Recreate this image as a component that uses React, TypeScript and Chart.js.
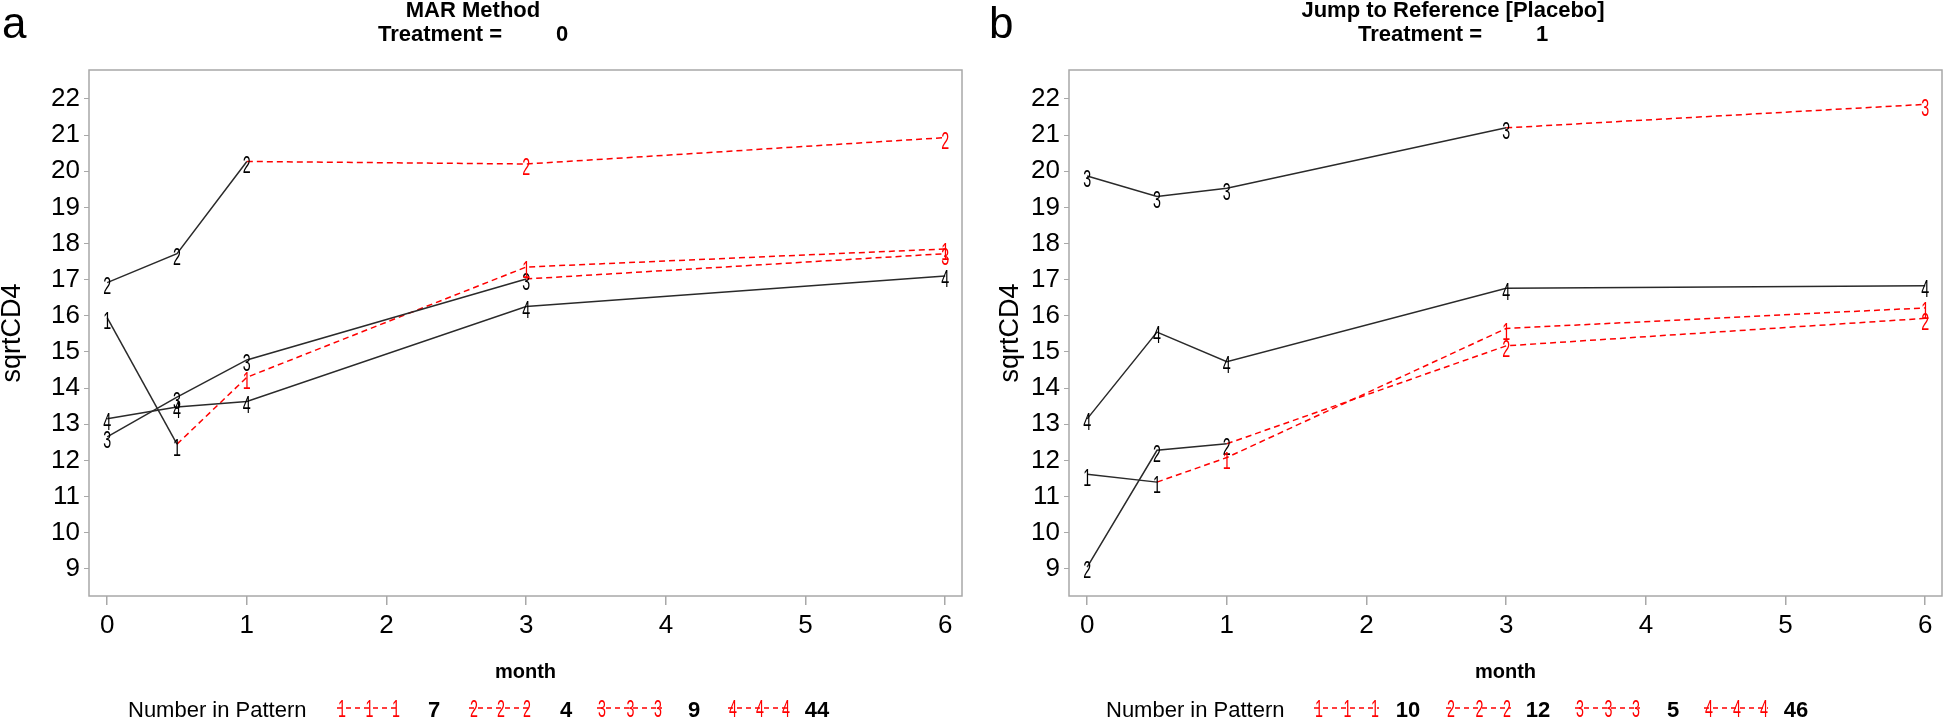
import React, { useEffect, useRef } from 'react';
import { Chart, registerables } from 'chart.js';

Chart.register(...registerables);

// ---------- data ----------
const months = [0, 0.5, 1, 3, 6];
const patternIds = ['1', '2', '3', '4'];
const observedCounts = [2, 3, 4, 5];

// Panel a: MAR Method, Treatment = 0
const marPattern1 = [15.95, 12.45, 14.3, 17.35, 17.85];
const marPattern2 = [16.92, 17.72, 20.27, 20.2, 20.93];
const marPattern3 = [12.65, 13.75, 14.78, 17.02, 17.72];
const marPattern4 = [13.15, 13.48, 13.63, 16.26, 17.1];
const marCounts = [7, 4, 9, 44];

// Panel b: Jump to Reference [Placebo], Treatment = 1
const j2rPattern1 = [11.62, 11.4, 12.08, 15.65, 16.22];
const j2rPattern2 = [9.05, 12.28, 12.46, 15.17, 15.93];
const j2rPattern3 = [19.87, 19.3, 19.53, 21.2, 21.85];
const j2rPattern4 = [13.15, 15.55, 14.73, 16.76, 16.83];
const j2rCounts = [10, 12, 5, 46];

const xTickValues = [0, 1, 2, 3, 4, 5, 6];
const yTickValues = [9, 10, 11, 12, 13, 14, 15, 16, 17, 18, 19, 20, 21, 22];

// ---------- styling ----------
const FONT = '"Liberation Sans", Arial, "DejaVu Sans", sans-serif';
const BLACK = '#2a2a2a';
const RED = '#ff0000';
const BOX = '#a8a8a8';

type PanelSpec = {
  letter: string;
  letterX: number;
  title: string;
  treatment: string;
  series: number[][];
  counts: number[];
  yTitleX: number;
  legendX: number[]; // label, s1 start, s1 end, c1, s2 start, s2 end, c2, ...
  width: number;
  left: number;
};

function drawDigit(ctx: CanvasRenderingContext2D, d: string, x: number, y: number, color: string) {
  ctx.save();
  ctx.translate(x, y + 5);
  ctx.scale(0.62, 1);
  ctx.font = `23px ${FONT}`;
  ctx.fillStyle = color;
  ctx.textAlign = 'center';
  ctx.textBaseline = 'middle';
  ctx.fillText(d, 0, 0);
  ctx.restore();
}

function makePlugin(p: PanelSpec) {
  return {
    id: 'panelDecor',
    afterDatasetsDraw(chart: any) {
      const ctx: CanvasRenderingContext2D = chart.ctx;
      const a = chart.chartArea;
      // markers (digits)
      chart.data.datasets.forEach((ds: any, i: number) => {
        const meta = chart.getDatasetMeta(i);
        meta.data.forEach((pt: any, j: number) => {
          if (ds.skipFirstMarker && j === 0) return;
          drawDigit(ctx, ds.marker, pt.x, pt.y, ds.markerColor);
        });
      });
      // box
      ctx.save();
      ctx.strokeStyle = BOX;
      ctx.lineWidth = 1.5;
      ctx.strokeRect(a.left, a.top, a.right - a.left, a.bottom - a.top);
      ctx.restore();
    },
    afterDraw(chart: any) {
      const ctx: CanvasRenderingContext2D = chart.ctx;
      const a = chart.chartArea;
      ctx.save();
      ctx.fillStyle = '#000';
      // panel letter
      ctx.font = `44px ${FONT}`;
      ctx.textAlign = 'left';
      ctx.textBaseline = 'alphabetic';
      ctx.fillText(p.letter, p.letterX, 38);
      // titles
      ctx.font = `bold 22px ${FONT}`;
      ctx.textAlign = 'center';
      ctx.fillText(p.title, 473, 17);
      ctx.textAlign = 'left';
      ctx.fillText('Treatment =', 378, 41);
      ctx.textAlign = 'center';
      ctx.fillText(p.treatment, 562, 41);
      // y title
      ctx.save();
      ctx.translate(p.yTitleX, (a.top + a.bottom) / 2);
      ctx.rotate(-Math.PI / 2);
      ctx.font = `27px ${FONT}`;
      ctx.textAlign = 'center';
      ctx.textBaseline = 'middle';
      ctx.fillText('sqrtCD4', 0, 0);
      ctx.restore();
      // x title
      ctx.font = `bold 20px ${FONT}`;
      ctx.textAlign = 'center';
      ctx.textBaseline = 'middle';
      ctx.fillText('month', (a.left + a.right) / 2, 672);
      // legend
      const ly = 711;
      ctx.font = `22px ${FONT}`;
      ctx.textAlign = 'left';
      ctx.fillText('Number in Pattern', p.legendX[0], ly);
      for (let k = 0; k < 4; k++) {
        const x1 = p.legendX[1 + k * 3];
        const x2 = p.legendX[2 + k * 3];
        const xc = p.legendX[3 + k * 3];
        ctx.save();
        ctx.strokeStyle = RED;
        ctx.lineWidth = 1.3;
        ctx.setLineDash([5, 4]);
        ctx.beginPath();
        ctx.moveTo(x1, ly - 3);
        ctx.lineTo(x2, ly - 3);
        ctx.stroke();
        ctx.restore();
        const d = patternIds[k];
        [x1 + 5, (x1 + x2) / 2 + 1, x2 - 4].forEach((xx) => drawDigit(ctx, d, xx, ly - 5, RED));
        ctx.font = `bold 22px ${FONT}`;
        ctx.fillStyle = '#000';
        ctx.textAlign = 'center';
        ctx.textBaseline = 'middle';
        ctx.fillText(String(p.counts[k]), xc, ly);
        ctx.font = `22px ${FONT}`;
        ctx.textAlign = 'left';
      }
      ctx.restore();
    },
  };
}

function buildDatasets(series: number[][]) {
  const out: any[] = [];
  series.forEach((vals, k) => {
    const obs = observedCounts[k];
    out.push({
      data: months.slice(0, obs).map((m, i) => ({ x: m, y: vals[i] })),
      borderColor: BLACK,
      borderWidth: 1.5,
      pointRadius: 0,
      tension: 0,
      fill: false,
      marker: patternIds[k],
      markerColor: '#000',
      skipFirstMarker: false,
    });
  });
  series.forEach((vals, k) => {
    const obs = observedCounts[k];
    if (obs >= months.length) return;
    out.push({
      data: months.slice(obs - 1).map((m, i) => ({ x: m, y: vals[obs - 1 + i] })),
      borderColor: RED,
      borderWidth: 1.5,
      borderDash: [6, 4],
      pointRadius: 0,
      tension: 0,
      fill: false,
      marker: patternIds[k],
      markerColor: RED,
      skipFirstMarker: true,
    });
  });
  return out;
}

function Panel({ spec }: { spec: PanelSpec }) {
  const ref = useRef<HTMLCanvasElement | null>(null);
  useEffect(() => {
    if (!ref.current) return;
    const chart = new Chart(ref.current, {
      type: 'line',
      data: { datasets: buildDatasets(spec.series) },
      options: {
        responsive: false,
        animation: false,
        devicePixelRatio: 1,
        layout: { padding: { top: 70, left: 0, right: spec.width - 962, bottom: 0 } },
        plugins: { legend: { display: false }, tooltip: { enabled: false }, title: { display: false } },
        scales: {
          x: {
            type: 'linear',
            min: -0.13,
            max: 6.12,
            border: { display: false },
            grid: { drawOnChartArea: false, drawTicks: true, tickLength: 9, color: BOX, lineWidth: 1.5 },
            afterBuildTicks: (s: any) => {
              s.ticks = xTickValues.map((v) => ({ value: v }));
            },
            ticks: { font: { family: FONT, size: 26 }, color: '#000', padding: 5, maxRotation: 0, autoSkip: false },
            afterFit: (s: any) => {
              s.height = 124;
            },
          },
          y: {
            type: 'linear',
            min: 8.25,
            max: 22.8,
            border: { display: false },
            grid: { drawOnChartArea: false, drawTicks: true, tickLength: 5, color: BOX, lineWidth: 1 },
            afterBuildTicks: (s: any) => {
              s.ticks = yTickValues.map((v) => ({ value: v }));
            },
            ticks: { font: { family: FONT, size: 26 }, color: '#000', padding: 4, autoSkip: false },
            afterFit: (s: any) => {
              s.width = 89;
            },
          },
        },
      } as any,
      plugins: [makePlugin(spec) as any],
    });
    return () => chart.destroy();
  }, [spec]);
  return (
    <canvas
      ref={ref}
      width={spec.width}
      height={720}
      style={{ position: 'absolute', left: spec.left, top: 0, width: spec.width, height: 720 }}
    />
  );
}

const panelA: PanelSpec = {
  letter: 'a',
  letterX: 2,
  title: 'MAR Method',
  treatment: '0',
  series: [marPattern1, marPattern2, marPattern3, marPattern4],
  counts: marCounts,
  yTitleX: 13,
  legendX: [128, 337, 400, 434, 469, 531, 566, 597, 662, 694, 728, 790, 817],
  width: 980,
  left: 0,
};

const panelB: PanelSpec = {
  letter: 'b',
  letterX: 9,
  title: 'Jump to Reference [Placebo]',
  treatment: '1',
  series: [j2rPattern1, j2rPattern2, j2rPattern3, j2rPattern4],
  counts: j2rCounts,
  yTitleX: 31,
  legendX: [126, 334, 399, 428, 466, 531, 558, 595, 660, 693, 724, 788, 816],
  width: 963,
  left: 980,
};

export default function App() {
  return (
    <div style={{ position: 'absolute', left: 0, top: 0, width: 1943, height: 720, background: '#fff', overflow: 'hidden' }}>
      <Panel spec={panelA} />
      <Panel spec={panelB} />
    </div>
  );
}
